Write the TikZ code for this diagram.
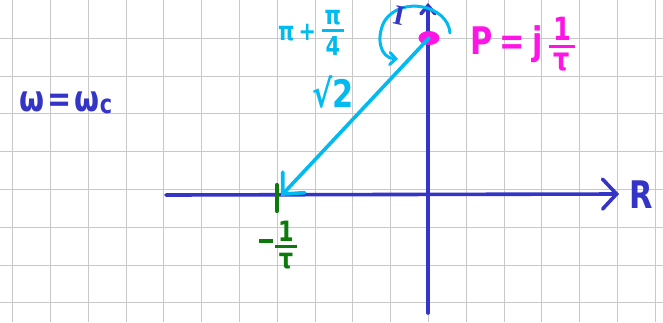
\documentclass[tikz,border=0pt]{standalone}
\usepackage{fontspec}
\usepackage{graphicx}
\setmainfont{DejaVu Sans}[FakeStretch=0.8]
\newfontfamily\serifhand{Liberation Serif}
\usetikzlibrary{arrows.meta,shapes.geometric}
\definecolor{axisblue}{HTML}{3434C6}
\definecolor{skyc}{HTML}{00BAF0}
\definecolor{magp}{HTML}{FF14E6}
\definecolor{grn}{HTML}{0B7A0B}
\definecolor{gridg}{HTML}{C8C8C8}
\newcommand\hfr[3]{\shortstack{#2\\[1pt]\rule[1pt]{#1}{3pt}\\[1pt]#3}}
\newcommand\fsz[1]{\fontsize{#1}{#1}\selectfont\bfseries}
\begin{document}
\begin{tikzpicture}[x=1pt,y=-1pt,
  gridline/.style={draw=gridg, line width=1.3pt},
  axisline/.style={draw=axisblue, line width=3.6pt, line cap=round},
  vecline/.style={draw=skyc, line width=3.6pt, line cap=round},
  lbl/.style={inner sep=0pt, anchor=center}]
\useasboundingbox (0,0) rectangle (663,322);
\fill[white] (0,0) rectangle (663,322);
% grid
\foreach \k in {0,...,17} \draw[gridline] ({round(12.1+37.8*\k)+0.5},0) -- ({round(12.1+37.8*\k)+0.5},322);
\foreach \k in {0,...,7} \draw[gridline] (0,{round(37.7+37.8*\k)+0.5}) -- (663,{round(37.7+37.8*\k)+0.5});
% axes
\coordinate (xs) at (166,195);
\coordinate (xe) at (619,194);
\coordinate (ys) at (428,313);
\coordinate (ye) at (428,3);
\draw[axisline, -{Straight Barb[length=14pt,width=30pt,line cap=round]}] (xs) -- (xe);
\draw[axisline, -{Straight Barb[length=8pt,width=14pt,line cap=round]}] (ys) -- (ye);
% point P
\node[ellipse, fill=magp, minimum width=21pt, minimum height=14pt, inner sep=0pt] (P) at (429,38) {};
% -1/tau point
\coordinate (m) at (281,196);
\coordinate (tA) at (277,185);
\coordinate (tB) at (277,211);
\draw[draw=grn, line width=4.2pt, line cap=round] (tA) -- (tB);
% vector
\draw[vecline, -{Straight Barb[length=16pt,width=30pt,line cap=round]}] (P.center) -- (m);
% angle arc
\coordinate (arcS) at (450,33);
\coordinate (arcE) at (398,59);
\draw[draw=skyc, line width=3pt, line cap=round, -{Straight Barb[length=6pt,width=12pt,line cap=round]}]
  (arcS) .. controls (448,5) and (400,-5) .. (384,22) .. controls (376,38) and (380,58) .. (arcE);
% labels
\node[lbl, text=axisblue, font=\fsz{36}] (wlbl) at (66,103) {ω\hspace{3pt}=\hspace{3pt}ω\raisebox{-2pt}{\fsz{26}c}};
\node[lbl, text=axisblue, font=\fontsize{28}{28}\selectfont\serifhand\bfseries, rotate=-12] (Ilbl) at (399,16) {I};
\node[lbl, text=axisblue, font=\fsz{38}] (Rlbl) at (641,195) {R};
\node[lbl, text=magp, font=\fsz{38}] (Plbl) at (523,44) {$\vcenter{\hbox{P\hspace{6pt}=\hspace{8pt}j}}\hspace{6pt}\vcenter{\hbox{\fsz{32}\hfr{26pt}{1}{τ}}}$};
\node[lbl, text=skyc, font=\fsz{38}] (sq) at (333,92) {√2};
\node[lbl, text=skyc, font=\fsz{26}] (ang) at (311,33) {$\vcenter{\hbox{π\hspace{4pt}+}}\hspace{6pt}\vcenter{\hbox{\fsz{26}\hfr{22pt}{π}{4}}}$};
\node[lbl, text=grn, font=\fsz{28}] (mlbl) at (278,245) {$\vcenter{\hbox{\raisebox{8pt}{\rule{14pt}{4pt}}}}\hspace{2pt}\vcenter{\hbox{\fsz{28}\hfr{22pt}{1}{τ}}}$};
\end{tikzpicture}
\end{document}
